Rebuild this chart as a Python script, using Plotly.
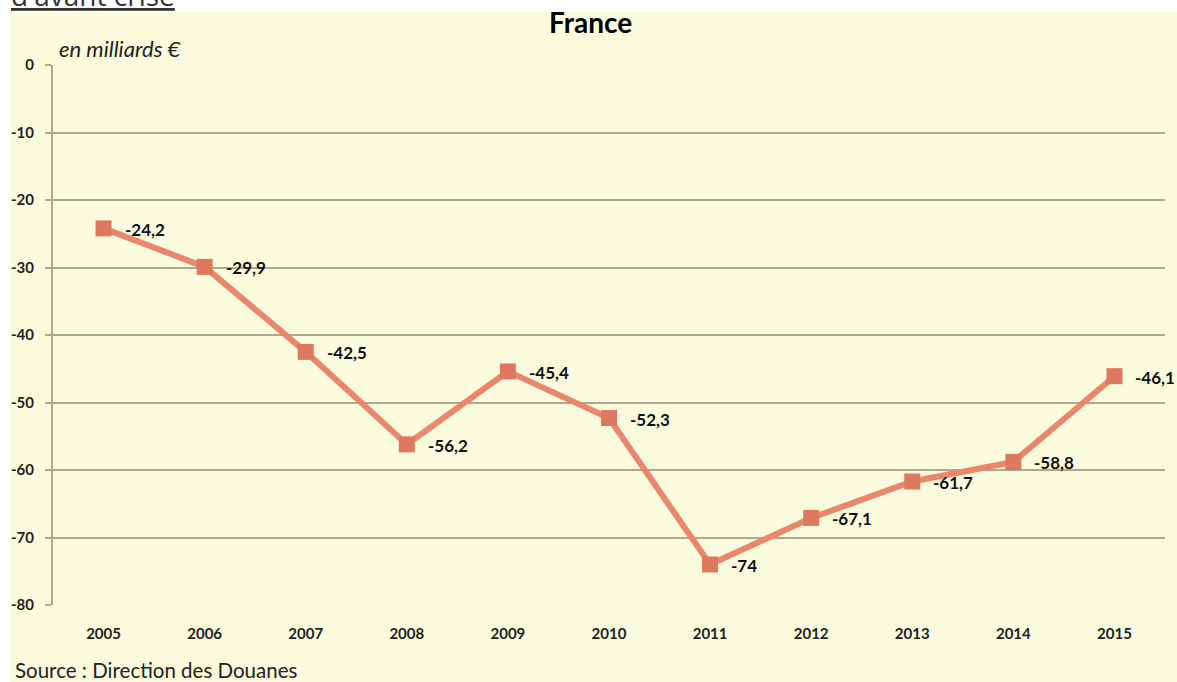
import plotly.graph_objects as go

years = ["2005", "2006", "2007", "2008", "2009", "2010", "2011", "2012", "2013", "2014", "2015"]
values = [-24.2, -29.9, -42.5, -56.2, -45.4, -52.3, -74, -67.1, -61.7, -58.8, -46.1]
y_ticks = [0, -10, -20, -30, -40, -50, -60, -70, -80]

def fmt(v):
    s = f"{v:g}"
    return s.replace(".", ",")

labels = [fmt(v) for v in values]
y_tick_text = [str(t) for t in y_ticks]

BG = "#FAFADC"
GRID = "#B3A68C"
LINE = "#E9866C"
MARK = "#DE785E"
FONT = "Lato"

fig = go.Figure()
fig.add_trace(go.Scatter(
    x=years, y=values, mode="lines+markers",
    line=dict(color=LINE, width=6),
    marker=dict(symbol="square", size=16, color=MARK, line=dict(width=0)),
    cliponaxis=False, showlegend=False, hoverinfo="skip",
))

L, R, T, B = 53, 12, 65, 77
W, H = 1177, 682
pw, ph = W - L - R, H - T - B

def px_x(p):
    return (p - L) / pw

def px_y(p):
    return 1 - (p - T) / ph

# category axis: annotations use the category index
annotations = [
    dict(x=i, y=v, xref="x", yref="y", text=lab, xanchor="left", yanchor="middle",
         xshift=19, yshift=-1, showarrow=False,
         font=dict(family=FONT, size=17, color="#111111", weight="bold"))
    for i, (v, lab) in enumerate(zip(values, labels))
]
annotations += [
    dict(text="<u>d'avant crise</u>", xref="paper", yref="paper",
         x=px_x(9), y=px_y(-5), xanchor="left", yanchor="middle",
         showarrow=False, font=dict(family="Open Sans", size=28, color="#333333")),
    dict(text="<b>France</b>", xref="paper", yref="paper",
         x=px_x(590), y=px_y(22), xanchor="center", yanchor="middle",
         showarrow=False, font=dict(family=FONT, size=28, color="#000000")),
    dict(text="<i>en milliards €</i>", xref="paper", yref="paper",
         x=px_x(57), y=px_y(48), xanchor="left", yanchor="middle",
         showarrow=False, font=dict(family=FONT, size=22, color="#222222")),
    dict(text="Source : Direction des Douanes", xref="paper", yref="paper",
         x=px_x(13), y=px_y(670), xanchor="left", yanchor="middle",
         showarrow=False, font=dict(family=FONT, size=20.5, color="#222222")),
]

fig.update_layout(
    width=W, height=H,
    margin=dict(l=L, r=R, t=T, b=B, autoexpand=False),
    paper_bgcolor="white",
    plot_bgcolor="rgba(0,0,0,0)",
    font=dict(family=FONT, color="#222222"),
    xaxis=dict(
        type="category", range=[-0.5, 10.5],
        showgrid=False, zeroline=False, showline=False,
        ticks="", ticklabelstandoff=18,
        tickfont=dict(family=FONT, size=15, color="#222222", weight="bold"),
        fixedrange=True,
    ),
    xaxis2=dict(
        type="linear", overlaying="x", side="top", anchor="y",
        range=[-0.5, 10.5],
        tickmode="array", tickvals=[i - 0.5 for i in range(12)],
        ticks="inside", ticklen=5, tickcolor=GRID, tickwidth=1.5,
        showline=True, linecolor=GRID, linewidth=2,
        showticklabels=False, showgrid=False, zeroline=False,
    ),
    yaxis=dict(
        range=[-80, 0], tickmode="array", tickvals=y_ticks, ticktext=y_tick_text,
        ticks="outside", ticklen=6, tickcolor=GRID, tickwidth=1.5,
        showgrid=True, gridcolor=GRID, gridwidth=1.5,
        showline=True, linecolor=GRID, linewidth=2,
        zeroline=False, ticklabelstandoff=8,
        tickfont=dict(family=FONT, size=15, color="#222222", weight="bold"),
        fixedrange=True,
    ),
    shapes=[dict(
        type="rect", xref="paper", yref="paper",
        x0=px_x(10), x1=px_x(W + 5), y0=px_y(12), y1=px_y(H + 5),
        fillcolor=BG, line=dict(width=0), layer="below",
    )],
    annotations=annotations,
)

fig.write_html(
    "out.html",
    config={"displayModeBar": False},
    post_script="document.body.style.margin='0';document.body.style.overflow='hidden';",
)
